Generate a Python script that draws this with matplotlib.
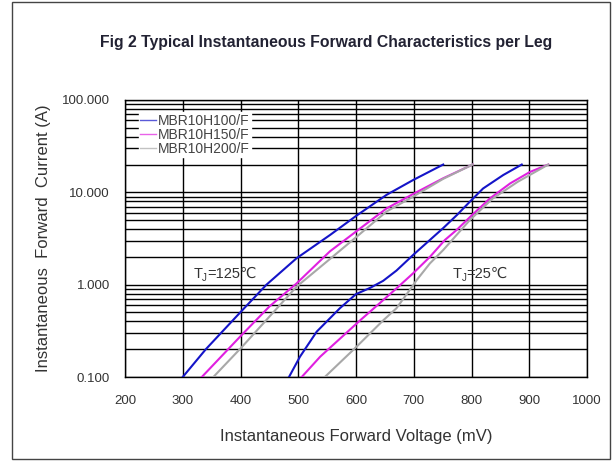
import numpy as np
import matplotlib
matplotlib.use("Agg")
import matplotlib.pyplot as plt
from matplotlib.patches import Rectangle
from matplotlib.ticker import FixedLocator, LogLocator, NullFormatter

plt.rcParams['font.family'] = ['Liberation Sans', 'DejaVu Sans']

# forward voltage (mV) / current (A)
v100_125 = [300, 340, 402, 445, 497, 555, 601, 653, 699, 751]
i100_125 = [0.1, 0.2, 0.52, 1.0, 1.93, 3.45, 5.6, 9.4, 13.6, 20]
v150_125 = [333, 402, 450, 497, 555, 601, 653, 699, 751, 802]
i150_125 = [0.1, 0.285, 0.58, 1.03, 2.3, 3.8, 6.7, 9.6, 14.2, 20]
v200_125 = [353, 402, 450, 497, 555, 601, 653, 699, 751, 802]
i200_125 = [0.1, 0.21, 0.45, 0.95, 1.9, 3.3, 6.2, 9.0, 14.0, 20]

v100_25 = [484, 503, 532, 572, 600, 624, 647, 670, 699, 728, 751, 775, 797, 820, 855, 887]
i100_25 = [0.1, 0.166, 0.31, 0.555, 0.79, 0.92, 1.1, 1.42, 2.1, 3.05, 4.1, 5.7, 7.9, 11.0, 15.4, 20]
v150_25 = [506, 538, 607, 641, 670, 699, 728, 754, 774, 800, 832, 867, 901, 933]
i150_25 = [0.1, 0.166, 0.41, 0.63, 0.91, 1.33, 2.0, 3.05, 3.9, 5.6, 8.6, 12.5, 16.6, 20]
v200_25 = [546, 601, 647, 670, 693, 705, 728, 751, 797, 836, 880, 933]
i200_25 = [0.1, 0.213, 0.41, 0.555, 0.875, 1.12, 1.7, 2.37, 5.0, 8.5, 13.0, 20]

names = ["MBR10H100/F", "MBR10H150/F", "MBR10H200/F"]
col = ["#1414c8", "#e020e0", "#a8a8a8"]
xticks = [200, 300, 400, 500, 600, 700, 800, 900, 1000]
yticks = [0.1, 1, 10, 100]
ylabs = ["0.100", "1.000", "10.000", "100.000"]

fig = plt.figure(figsize=(6.14, 4.61), dpi=100)
ax = fig.add_axes([125/614, 84/461, 462/614, 277/461])

curves125 = [(v100_125, i100_125), (v150_125, i150_125), (v200_125, i200_125)]
curves25 = [(v100_25, i100_25), (v150_25, i150_25), (v200_25, i200_25)]
for k in range(3):
    ax.plot(curves125[k][0], curves125[k][1], color=col[k], lw=1.5, label=names[k], zorder=3)
    ax.plot(curves25[k][0], curves25[k][1], color=col[k], lw=1.5, zorder=3)

ax.set_yscale("log")
ax.set_xlim(200, 1000)
ax.set_ylim(0.1, 100)
ax.xaxis.set_major_locator(FixedLocator(xticks))
ax.yaxis.set_major_locator(FixedLocator(yticks))
ax.set_yticklabels(ylabs)
ax.yaxis.set_minor_locator(LogLocator(base=10, subs=np.arange(2, 10)))
ax.yaxis.set_minor_formatter(NullFormatter())
ax.tick_params(which="both", length=0, labelsize=9.5, colors="#333333")
ax.tick_params(axis="x", pad=13)
ax.tick_params(axis="y", pad=11)
ax.grid(which="major", color="black", lw=1.0)
ax.grid(which="minor", axis="y", color="black", lw=1.0)
for s in ax.spines.values():
    s.set_color("black")
    s.set_linewidth(1.0)

ax.set_xlabel("Instantaneous Forward Voltage (mV)", fontsize=12, color="#333333", labelpad=16)
ax.set_ylabel("Instantaneous  Forward  Current (A)", fontsize=12, color="#333333", labelpad=8)

leg = ax.legend(loc="upper left", bbox_to_anchor=(0.03, 0.955), fontsize=10, frameon=True,
                handlelength=1.1, handletextpad=0.15, labelspacing=0.0, borderpad=0.1,
                borderaxespad=0.0, fancybox=False)
leg.get_frame().set_edgecolor("white")
leg.get_frame().set_facecolor("white")
leg.get_frame().set_alpha(1.0)
for t in leg.get_texts():
    t.set_color("#444444")
for h in leg.get_lines():
    h.set_linewidth(1.0)
    h.set_alpha(0.7)

# TJ labels: T, subscript J, then the rest as plain text so the fallback font supplies the sign
for xv, yv, rest in [(318, 1.32, "=125℃"), (767, 1.32, "=25℃")]:
    ax.annotate("T", (xv, yv), fontsize=10.5, color="#333333", ha="left", va="center", zorder=4)
    ax.annotate("J", (xv, yv), xytext=(6.5, -3.5), textcoords="offset points",
                fontsize=7, color="#333333", ha="left", va="center", zorder=4)
    ax.annotate(rest, (xv, yv), xytext=(10, 0), textcoords="offset points",
                fontsize=10.5, color="#333333", ha="left", va="center", zorder=4)

fig.text(326/614, 1 - 43/461, "Fig 2 Typical Instantaneous Forward Characteristics per Leg",
         fontsize=11.3, fontweight="bold", color="#222233", ha="center", va="center")

fig.patches.append(Rectangle((12/614, 2/461), 598/614, 457/461, transform=fig.transFigure,
                             fill=False, edgecolor="#444444", lw=1.0))

fig.savefig("out.png", dpi=100)
plt.close(fig)
